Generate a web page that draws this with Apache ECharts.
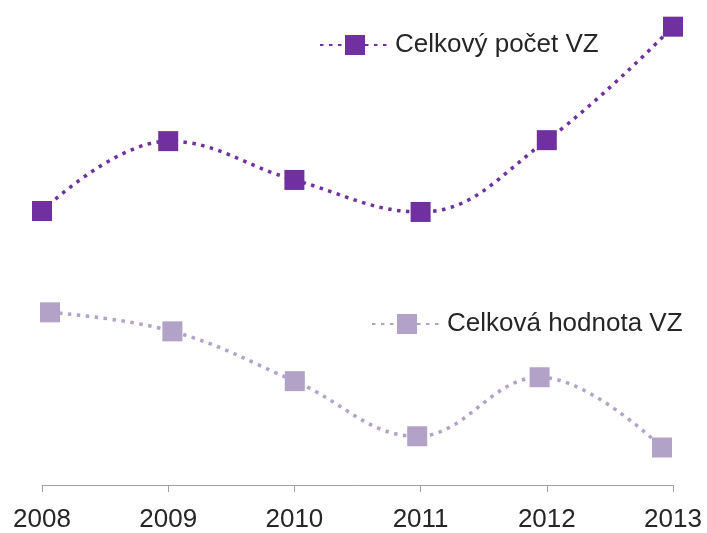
<!DOCTYPE html>
<html>
<head>
<meta charset="utf-8">
<script src="https://cdn.jsdelivr.net/npm/echarts@6/dist/echarts.min.js"></script>
<style>
html, body { margin: 0; padding: 0; background: #fff; }
#chart { width: 707px; height: 533px; }
</style>
</head>
<body>
<div id="chart"></div>
<script>
// roky
var years = ['2008', '2009', '2010', '2011', '2012', '2013'];
// relativni hodnoty (bez osy y)
var pocetVZ = [56.5, 70.9, 62.9, 56.3, 71.1, 94.5];
var hodnotaVZ = [36.0, 32.1, 21.9, 10.6, 22.7, 8.3];

var darkColor = '#7030a0';
var lightColor = '#b3a2c7';
var fontName = '"Liberation Sans", Arial, sans-serif';

var chart = echarts.init(document.getElementById('chart'));

var options = {
	animation: false,
	grid: [
		{ left: 42, right: 34, top: 0, bottom: 45 },
		{ left: 50, right: 45, top: 0, bottom: 45 }
	],
	legend: [
		{
			data: ['Celkový počet VZ'],
			left: 319, top: 32, padding: 0,
			itemWidth: 70, itemHeight: 25, itemGap: 0,
			textStyle: { fontFamily: fontName, fontSize: 26, color: '#262626' }
		},
		{
			data: ['Celková hodnota VZ'],
			left: 371, top: 311, padding: 0,
			itemWidth: 70, itemHeight: 25, itemGap: 0,
			textStyle: { fontFamily: fontName, fontSize: 26, color: '#262626' }
		}
	],
	xAxis: [
		{
			type: 'category',
			gridIndex: 0,
			data: years,
			boundaryGap: false,
			axisLine: { lineStyle: { color: '#a0a0a0', width: 1 } },
			axisTick: { show: true, length: 7, lineStyle: { color: '#a0a0a0' } },
			axisLabel: { margin: 22, fontFamily: fontName, fontSize: 26, color: '#262626' },
			splitLine: { show: false }
		},
		{
			type: 'category',
			gridIndex: 1,
			data: years,
			boundaryGap: false,
			show: false
		}
	],
	yAxis: [
		{ type: 'value', gridIndex: 0, min: 0, max: 100, show: false },
		{ type: 'value', gridIndex: 1, min: 0, max: 100, show: false }
	],
	series: [
		{
			name: 'Celkový počet VZ',
			type: 'line',
			xAxisIndex: 0, yAxisIndex: 0,
			data: pocetVZ,
			smooth: 0.4,
			symbol: 'rect',
			symbolSize: 20,
			itemStyle: { color: darkColor },
			lineStyle: { color: darkColor, width: 3.5, type: [3.5, 5.5] }
		},
		{
			name: 'Celková hodnota VZ',
			type: 'line',
			xAxisIndex: 1, yAxisIndex: 1,
			data: hodnotaVZ,
			smooth: 0.4,
			symbol: 'rect',
			symbolSize: 20,
			itemStyle: { color: lightColor },
			lineStyle: { color: lightColor, width: 3.5, type: [3.5, 5.5] }
		}
	]
};

chart.setOption(options);
</script>
</body>
</html>
